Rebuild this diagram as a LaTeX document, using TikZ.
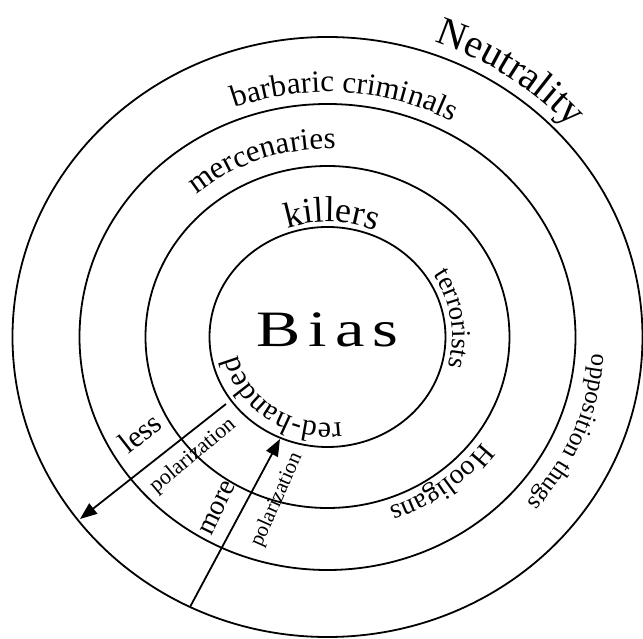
\documentclass[tikz,border=0pt]{standalone}
\usepackage{fontspec}
\setmainfont{Liberation Serif}
\usepackage{graphicx}
\usetikzlibrary{decorations.text,arrows.meta}
\newcommand\szKill{\fontsize{36}{36}\selectfont}
\newcommand\szBarb{\fontsize{31}{31}\selectfont}
\newcommand\szNeut{\fontsize{40}{40}\selectfont}
\newcommand\szMerc{\fontsize{31}{31}\selectfont}
\newcommand\szTerr{\fontsize{27}{27}\selectfont}
\newcommand\szHool{\fontsize{28}{28}\selectfont}
\newcommand\szOppo{\fontsize{25}{25}\selectfont}
\newcommand\szRed{\fontsize{30}{30}\selectfont}
\begin{document}
\begin{tikzpicture}[x=1pt,y=1pt,
  ring/.style={line width=1.8pt},
  arctext/.style={decorate,decoration={text along path,text align=center,text={#1}}},
  arr/.style={line width=1.8pt,-{Triangle[length=17pt,width=13pt]}},
  lbl/.style={inner sep=0pt,font=\fontsize{#1}{#1}\selectfont}]
\useasboundingbox (-327.5,-302) rectangle (315.5,337);
% rings
\draw[ring] (0,0) ellipse[x radius=118,y radius=110];
\draw[ring] (0,0) ellipse[x radius=182,y radius=171];
\draw[ring] (0,0) ellipse[x radius=248,y radius=233];
\draw[ring] (0,0) ellipse[x radius=315,y radius=300];
% centre label
\node[inner sep=0pt,anchor=base] (bias) at (0,-10)
  {\scalebox{1.3}[1]{\fontsize{51}{51}\selectfont B\kern6pt i\kern6pt a\kern6pt s}};
% curved labels (clockwise paths, tops outward)
\path[arctext={|\szKill|killers}] (148:123 and 115) arc[start angle=148,end angle=28,x radius=123,y radius=115];
\path[arctext={|\szMerc|mercenaries}] (170:200 and 188) arc[start angle=170,end angle=50,x radius=200,y radius=188];
\path[arctext={|\szBarb|barbaric criminals}] (146:262 and 245) arc[start angle=146,end angle=26,x radius=262,y radius=245];
\path[arctext={|\szNeut|Neutrality}] (96:327 and 312) arc[start angle=96,end angle=16,x radius=327,y radius=312];
\path[arctext={|\szTerr|terrorists}] (60:125 and 116) arc[start angle=60,end angle=-43,x radius=125,y radius=116];
\path[arctext={|\szHool|Hooligans}] (-10:191 and 180) arc[start angle=-10,end angle=-96,x radius=191,y radius=180];
\path[arctext={|\szOppo|opposition thugs}] (28:266 and 250) arc[start angle=28,end angle=-72,x radius=266,y radius=250];
\path[arctext={|\szRed|red-handed}] (295:92 and 86) arc[start angle=295,end angle=175,x radius=92,y radius=86];
% arrows
\coordinate (lessS) at (-101.5,-67);
\coordinate (lessE) at (-247.5,-182);
\coordinate (moreS) at (-137.5,-270);
\coordinate (moreE) at (-47.5,-102);
\draw[arr] (lessS) -- (lessE);
\draw[arr] (moreS) -- (moreE);
% arrow labels
\node[lbl=30,rotate=38] (less) at (-187.5,-96) {less};
\node[lbl=22,rotate=40] (polL) at (-134.5,-119) {polarization};
\node[lbl=28,rotate=64] (more) at (-109.5,-171) {more};
\node[lbl=21,rotate=66] (polM) at (-50.5,-163) {polarization};
\end{tikzpicture}
\end{document}
